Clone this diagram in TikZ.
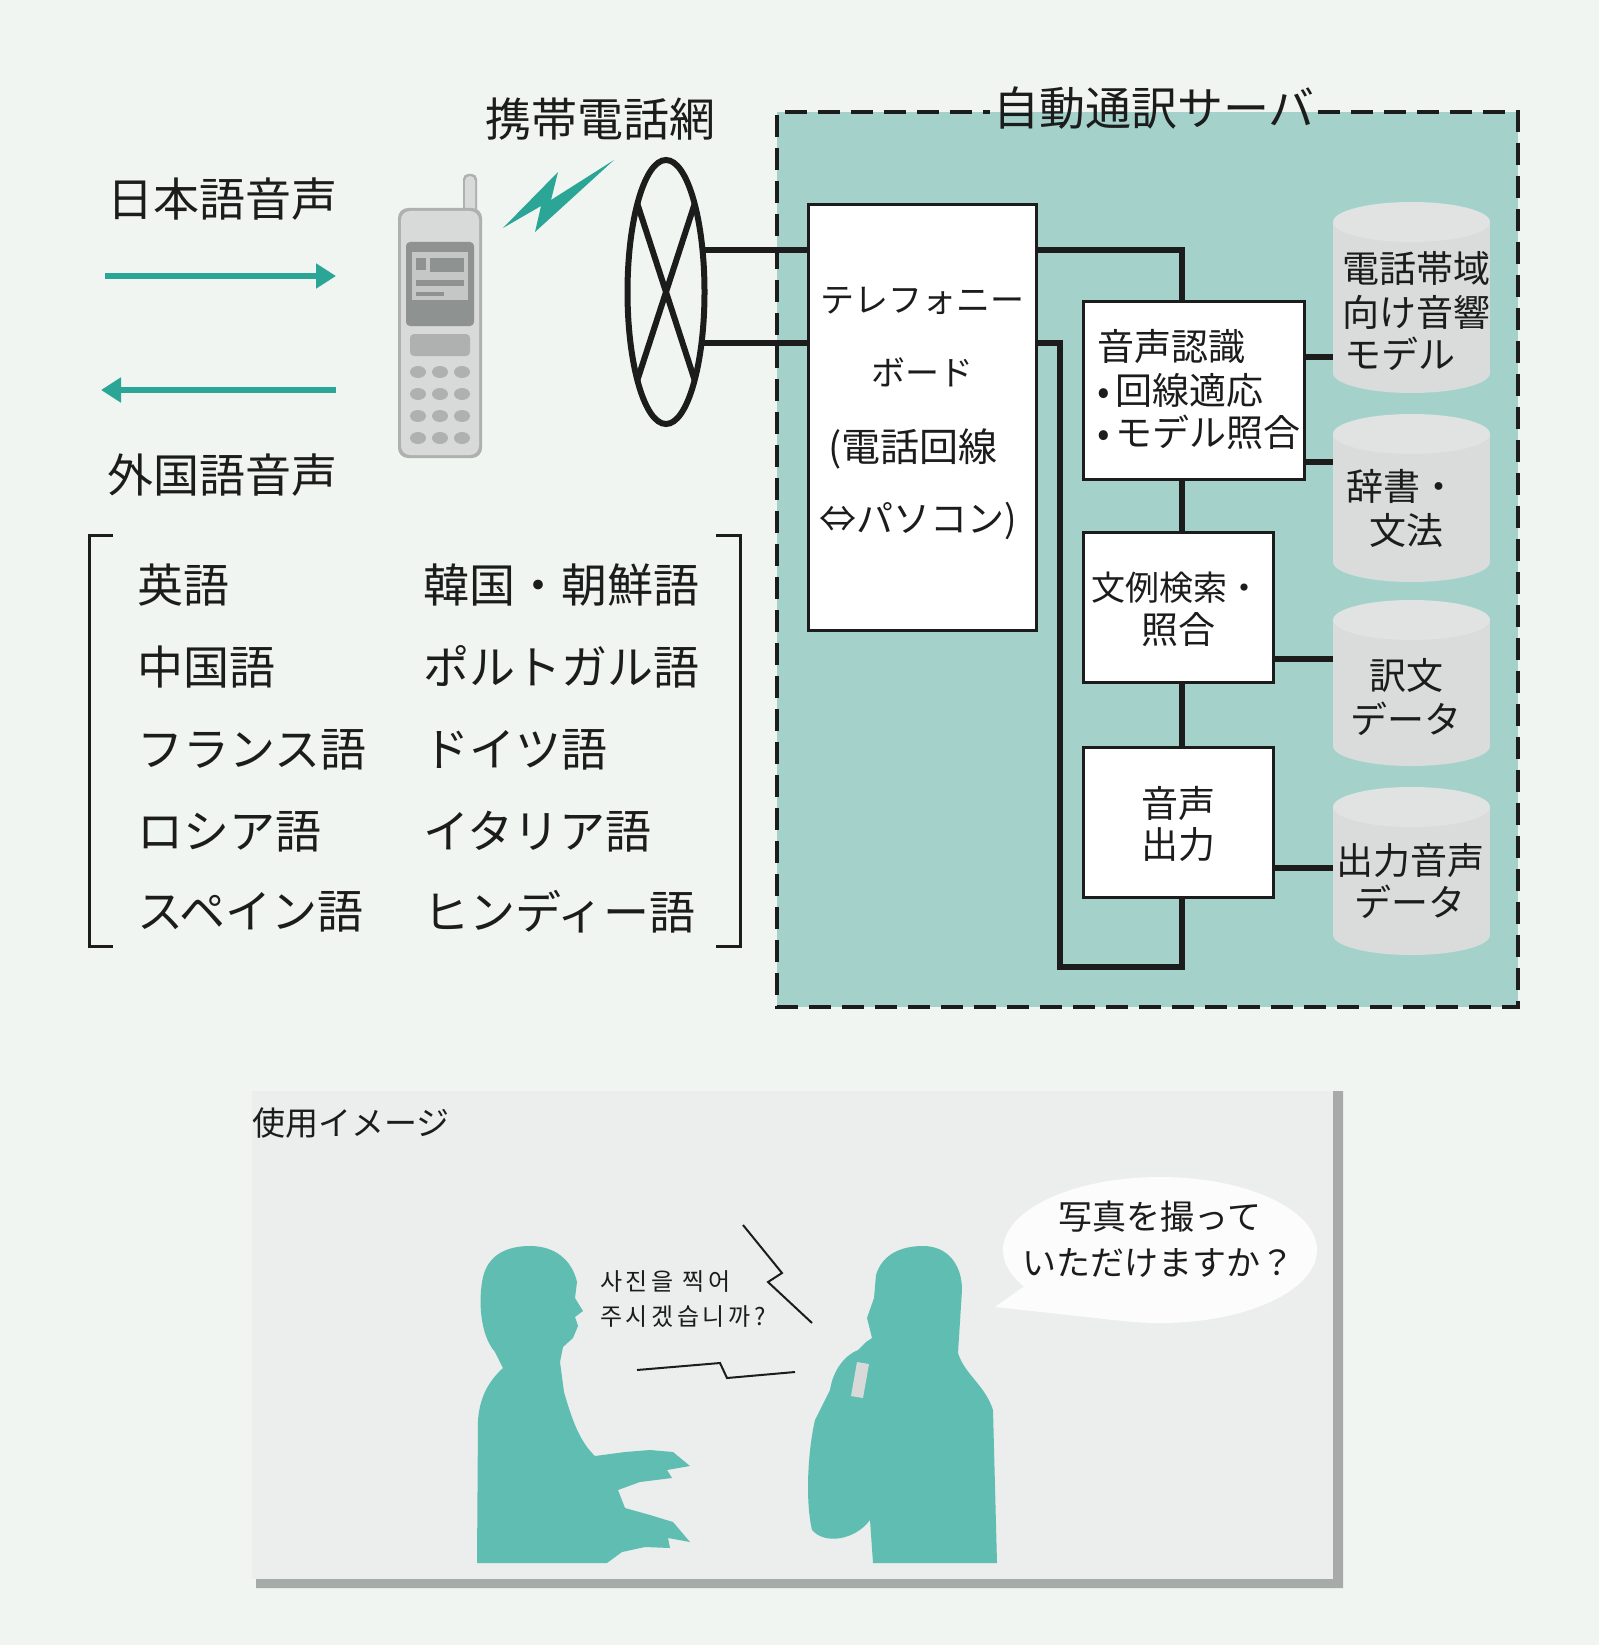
\documentclass[tikz,border=0pt]{standalone}
\usepackage{fontspec}
\setmainfont{Noto Sans CJK JP}
\newfontfamily\krfont[LetterSpace=15]{Noto Sans CJK KR}
\usetikzlibrary{arrows.meta,shapes.geometric,calc}

\definecolor{page}{HTML}{F0F5F2}
\definecolor{panel}{HTML}{EBEEEC}
\definecolor{server}{HTML}{A4D2CB}
\definecolor{accent}{HTML}{2AA596}
\definecolor{person}{HTML}{5FBEB1}
\definecolor{dbgrey}{HTML}{D9DCDA}
\definecolor{dbtop}{HTML}{E1E3E2}
\definecolor{dropgrey}{HTML}{A6AAA8}
\definecolor{ink}{HTML}{1C1C1C}
\definecolor{phbody}{HTML}{D8DAD9}
\definecolor{phedge}{HTML}{AEB1AF}
\definecolor{phdark}{HTML}{8E9290}
\definecolor{phscreen}{HTML}{C4C7C5}
\definecolor{bubble}{HTML}{FBFCFB}

\begin{document}
\begin{tikzpicture}[x=1pt,y=-1pt,
  txt/.style={inner sep=0, text=ink},
  big/.style={txt, font=\fontsize{46}{52}\selectfont},
  lang/.style={txt, anchor=west, font=\fontsize{46}{52}\selectfont},
  inbox/.style={txt, font=\fontsize{37}{42}\selectfont},
  dbtext/.style={txt, font=\fontsize{37}{42}\selectfont},
  blk/.style={draw=ink, line width=3pt, fill=white, inner sep=0},
  wire/.style={draw=ink, line width=6pt, line join=miter},
  voice/.style={draw=accent, line width=6pt, -{Triangle[length=20pt,width=24pt]}},
  dashline/.style={draw=ink, line width=4pt, dash pattern=on 22pt off 11pt},
  bracket/.style={draw=ink, line width=3pt},
  zig/.style={draw=ink, line width=2pt, line join=miter},
]
\useasboundingbox (0,0) rectangle (1599,1645);
\fill[page] (0,0) rectangle (1599,1645);

% ---------- voice direction arrows ----------
\node[big] (jpvoice) at (222,199) {日本語音声};
\node[big] (fgvoice) at (222,475) {外国語音声};
\coordinate (outA) at (105,276);
\coordinate (outB) at (336,276);
\coordinate (inA) at (336,390);
\coordinate (inB) at (101,390);
\draw[voice] (outA) -- (outB);
\draw[voice] (inA) -- (inB);

% ---------- handset ----------
\fill[phedge, rounded corners=5pt] (463,174) rectangle (477,216);
\fill[phbody, rounded corners=5pt] (465,176) rectangle (475,214);
\fill[phedge, rounded corners=10pt] (398,208) rectangle (482,458);
\fill[phbody, rounded corners=9pt] (401,211) rectangle (479,455);
\fill[phdark, rounded corners=4pt] (406,242) rectangle (474,326);
\fill[phscreen] (412,252) rectangle (468,300);
\fill[phdark] (416,258) rectangle (426,270);
\fill[phdark] (430,258) rectangle (464,272);
\fill[phdark] (416,280) rectangle (464,286);
\fill[phdark] (416,292) rectangle (444,296);
\fill[phedge, rounded corners=4pt] (410,334) rectangle (470,356);
\foreach \ky in {372,394,416,438}
  \foreach \kx in {418,440,462}
    \fill[phedge] (\kx,\ky) ellipse (8 and 6);

% ---------- radio link ----------
\fill[accent] (503,228) -- (558,172) -- (551,200) -- (614,160) -- (535,232) -- (541,206) -- cycle;

% ---------- mobile network ----------
\node[big] (mobnet) at (600,119) {携帯電話網};
\node[draw=ink, line width=6pt, fill=page, ellipse, inner sep=0, outer sep=0,
      minimum width=77pt, minimum height=264pt] (net) at (666,292) {};
\draw[line width=6pt, draw=ink] (net.72) -- (net.-108);
\draw[line width=6pt, draw=ink] (net.108) -- (net.-72);

% ---------- translation server ----------
\fill[server] (777,112) rectangle (1518,1007);
\node[big, inner xsep=3pt] (srvtitle) at (1154,108) {自動通訳サーバ};
\coordinate (srvtop) at (0,112);
\draw[dashline] (srvtitle.east |- srvtop) -- (1518,112) -- (1518,1007) -- (777,1007) -- (777,112) -- (srvtitle.west |- srvtop);

% database cylinders
\newcommand\dbcyl[3]{%
  \fill[dbgrey] (1333,#1+20) rectangle (1490,#2-20);
  \fill[dbgrey] (1411.5,#2-20) ellipse (78.5 and 20);
  \fill[dbtop] (1411.5,#1+20) ellipse (78.5 and 20);
  \node[inner sep=0, minimum width=157pt, minimum height={#2-#1}] (#3) at (1411.5,{(#1+#2)/2}) {};
}
\dbcyl{202}{393}{dbacoustic}
\dbcyl{414}{582}{dbdict}
\dbcyl{600}{766}{dbtrans}
\dbcyl{787}{955}{dbspeech}

\node[dbtext] (dbacousticA) at (1416,268) {電話帯域};
\node[dbtext] (dbacousticB) at (1416,312) {向け音響};
\node[dbtext, anchor=west] (dbacousticC) at (1344,354) {モデル};
\node[dbtext] (dbdictA) at (1402,486) {辞書・};
\node[dbtext] (dbdictB) at (1406,530) {文法};
\node[dbtext] (dbtransA) at (1406,675) {訳文};
\node[dbtext] (dbtransB) at (1406,719) {データ};
\node[dbtext] (dbspeechA) at (1410,860) {出力音声};
\node[dbtext] (dbspeechB) at (1410,902) {データ};

% processing blocks
\node[blk, minimum width=228pt, minimum height=425pt] (board) at (922,417.5) {};
\node[txt, font=\fontsize{34}{40}\selectfont] (boardA) at (922,301) {テレフォニー};
\node[txt, font=\fontsize{34}{40}\selectfont] (boardB) at (922,372) {ボード};
\node[txt, font=\fontsize{39}{44}\selectfont] (boardC) at (913,449) {(電話回線};
\node[txt, font=\fontsize{37}{44}\selectfont] (boardD) at (918,521) {⇔パソコン)};

\node[blk, minimum width=221pt, minimum height=178pt] (rec) at (1193.5,390) {};
\node[inbox, anchor=west] (recA) at (1097,346) {音声認識};
\node[inbox, anchor=west] (recB) at (1097,390) {•\hspace{6pt}回線適応};
\node[inbox, anchor=west] (recC) at (1097,432) {•\hspace{6pt}モデル照合};

\node[blk, minimum width=190pt, minimum height=150pt] (ex) at (1178,607) {};
\node[inbox, font=\fontsize{34}{40}\selectfont] (exA) at (1176,588) {文例検索・};
\node[inbox] (exB) at (1178,630) {照合};

\node[blk, minimum width=190pt, minimum height=150pt] (out) at (1178,822) {};
\node[inbox] (outA) at (1178,803) {音声};
\node[inbox] (outB) at (1178,845) {出力};

% wiring
\coordinate (bus) at (1182,0);
\coordinate (loopcorner) at (1060,967);
\draw[wire] (net.49) -- (board.west |- net.49);
\draw[wire] (net.-55) -- (board.west |- net.-55);
\draw[wire] (board.east |- net.49) -| (bus |- rec.north);
\draw[wire] (board.east |- net.-55) -| (loopcorner) -| (bus |- out.south);
\draw[wire] (bus |- rec.south) -- (bus |- ex.north);
\draw[wire] (bus |- ex.south) -- (bus |- out.north);

\coordinate (yA) at (0,357);
\coordinate (yB) at (0,462);
\coordinate (yC) at (0,659);
\coordinate (yD) at (0,868);
\draw[wire] (rec.east |- yA) -- (dbacoustic.west |- yA);
\draw[wire] (rec.east |- yB) -- (dbdict.west |- yB);
\draw[wire] (ex.east |- yC) -- (dbtrans.west |- yC);
\draw[wire] (out.east |- yD) -- (dbspeech.west |- yD);

% ---------- supported languages ----------
\draw[bracket] (113,535) -- (89,535) -- (89,946) -- (113,946);
\draw[bracket] (716,535) -- (740,535) -- (740,946) -- (716,946);
\node[lang] (l1) at (137,585) {英語};
\node[lang] (l2) at (137,667) {中国語};
\node[lang] (l3) at (137,750) {フランス語};
\node[lang] (l4) at (137,832) {ロシア語};
\node[lang] (l5) at (137,912) {スペイン語};
\node[lang] (r1) at (423,585) {韓国・朝鮮語};
\node[lang] (r2) at (423,667) {ポルトガル語};
\node[lang] (r3) at (423,750) {ドイツ語};
\node[lang] (r4) at (423,832) {イタリア語};
\node[lang] (r5) at (423,912) {ヒンディー語};

% ---------- usage scene ----------
\fill[dropgrey] (1333,1091) -- (1343,1091) -- (1343,1588) -- (256,1588) -- (256,1579) -- (1333,1579) -- cycle;
\fill[panel] (252,1091) rectangle (1333,1579);
\node[txt, anchor=west, font=\fontsize{33}{38}\selectfont] (scene) at (252,1123) {使用イメージ};

% woman (left)
\fill[person] (483,1277) .. controls (488,1256) and (505,1246) .. (530,1246)
  .. controls (555,1246) and (572,1260) .. (577,1282)
  -- (575,1298) -- (583,1311) -- (575,1317) -- (578,1326) -- (573,1338) -- (563,1347)
  -- (560,1362) -- (564,1392) .. controls (572,1420) and (580,1442) .. (595,1456)
  -- (625,1452) -- (650,1450) -- (673,1452) -- (690,1466) -- (667,1470) -- (672,1478)
  -- (640,1482) -- (618,1490)
  -- (625,1508) -- (650,1515) -- (673,1522) -- (690,1542) -- (668,1538) -- (670,1548)
  -- (645,1547) -- (622,1552) -- (607,1563)
  -- (477,1563) -- (478,1420) .. controls (480,1395) and (490,1380) .. (503,1368)
  -- (495,1352) .. controls (480,1335) and (478,1300) .. (483,1277) -- cycle;

% man (right) holding a handset
\fill[person] (923,1246) .. controls (948,1246) and (962,1265) .. (962,1290)
  -- (958,1353) .. controls (965,1375) and (985,1385) .. (993,1410)
  -- (997,1563) -- (873,1563) -- (870,1520)
  .. controls (855,1540) and (825,1545) .. (812,1530)
  .. controls (805,1500) and (808,1450) .. (815,1420)
  -- (830,1390) .. controls (833,1370) and (845,1355) .. (858,1350)
  -- (866,1342) -- (872,1338) -- (867,1318) -- (874,1298) -- (876,1275)
  .. controls (882,1255) and (900,1246) .. (923,1246) -- cycle;
\fill[phbody] (851,1396) -- (857,1362) -- (869,1364) -- (863,1398) -- cycle;

% spoken lines
\draw[zig] (743,1225) -- (782,1273) -- (768,1282) -- (812,1323);
\draw[zig] (637,1370) -- (720,1363) -- (727,1378) -- (795,1372);
\node[txt, anchor=west, font={\krfont\fontsize{24}{30}\selectfont}] (krA) at (600,1282) {사진을 찍어};
\node[txt, anchor=west, font={\krfont\fontsize{24}{30}\selectfont}] (krB) at (600,1317) {주시겠습니까?};

% speech bubble
\node[ellipse, fill=bubble, inner sep=0, minimum width=314pt, minimum height=146pt] (bubble) at (1160,1250) {};
\fill[bubble] (bubble.195) -- ($(bubble.center)+(-165,57)$) -- (bubble.238) -- cycle;
\node[txt, font=\fontsize{34}{40}\selectfont] (bubA) at (1160,1217) {写真を撮って};
\node[txt, font=\fontsize{34}{40}\selectfont] (bubB) at (1158,1263) {いただけますか？};
\end{tikzpicture}
\end{document}
